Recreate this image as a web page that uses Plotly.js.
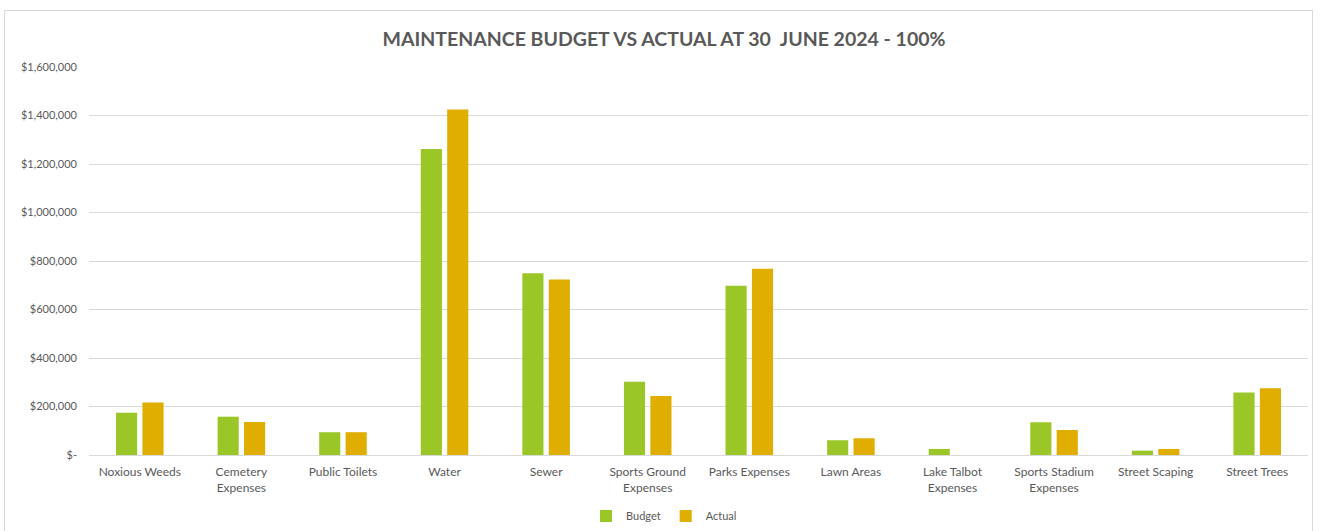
<!DOCTYPE html>
<html>
<head>
<meta charset="utf-8">
<script src="https://cdn.plot.ly/plotly-3.0.1.min.js"></script>
<style>
  html, body { margin: 0; padding: 0; background: #ffffff; }
  #wrap { position: relative; width: 1328px; height: 531px; }
  #chart { position: absolute; left: 0; top: 0; width: 1328px; height: 531px; }
  #frame { position: absolute; left: 4px; top: 10px; width: 1309px; height: 530px;
           border: 1px solid #d9d9d9; box-sizing: border-box; pointer-events: none; }
</style>
</head>
<body>
<div id="wrap">
  <div id="chart"></div>
  <div id="frame"></div>
</div>
<script>
var categories = [
  "Noxious Weeds", "Cemetery<br>Expenses", "Public Toilets", "Water", "Sewer",
  "Sports Ground<br>Expenses", "Parks Expenses", "Lawn Areas", "Lake Talbot<br>Expenses",
  "Sports Stadium<br>Expenses", "Street Scaping", "Street Trees"
];
var budget = [174000, 158000, 94000, 1262000, 749000, 302000, 698000, 61000, 25000, 135000, 18000, 258000];
var actual = [216000, 136000, 94000, 1425000, 724000, 243000, 768000, 69000, 0, 103000, 25000, 275000];
var yTickVals = [0, 200000, 400000, 600000, 800000, 1000000, 1200000, 1400000, 1600000];
var yTickText = ["$-", "$200,000", "$400,000", "$600,000", "$800,000", "$1,000,000", "$1,200,000", "$1,400,000", "$1,600,000"];
var chartTitle = "MAINTENANCE BUDGET VS ACTUAL AT 30  JUNE 2024 - 100%";

var fontFam = "Lato, 'Open Sans', sans-serif";
var traces = [
  { type: "bar", name: "Budget", x: categories, y: budget,
    marker: { color: "#9bc627" }, hoverinfo: "x+y" },
  { type: "bar", name: "Actual", x: categories, y: actual,
    marker: { color: "#dfae00" }, hoverinfo: "x+y" }
];
var layout = {
  width: 1328, height: 531,
  paper_bgcolor: "rgba(0,0,0,0)", plot_bgcolor: "#ffffff",
  margin: { l: 89, r: 20, t: 67, b: 76 },
  font: { family: fontFam, color: "#595959", size: 11 },
  title: { text: "<b>" + chartTitle + "</b>", x: 0.5, xref: "container", xanchor: "center",
           y: 1 - 39 / 531, yref: "container", yanchor: "middle",
           font: { family: fontFam, size: 19.5, color: "#595959" } },
  barmode: "group", bargap: 0.48, bargroupgap: 0.2,
  xaxis: { type: "category", showgrid: false, showline: true, linecolor: "#d9d9d9", linewidth: 1,
           ticks: "", ticklabelstandoff: 6, tickfont: { size: 12, color: "#595959" }, tickangle: 0, automargin: false },
  yaxis: { range: [0, 1600000], tickvals: yTickVals, ticktext: yTickText,
           showgrid: true, gridcolor: "#d9d9d9", gridwidth: 1, zeroline: false,
           showline: false, ticks: "", ticklabelstandoff: 11,
           tickfont: { size: 11, color: "#595959" }, automargin: false },
  showlegend: true,
  legend: { orientation: "h", xref: "container", x: 0.5, xanchor: "center",
            yref: "container", y: 1 - 516 / 531, yanchor: "middle",
            font: { size: 11, color: "#595959" }, itemwidth: 30, bgcolor: "rgba(0,0,0,0)" }
};
Plotly.newPlot("chart", traces, layout, { displayModeBar: false, staticPlot: true });
</script>
</body>
</html>
